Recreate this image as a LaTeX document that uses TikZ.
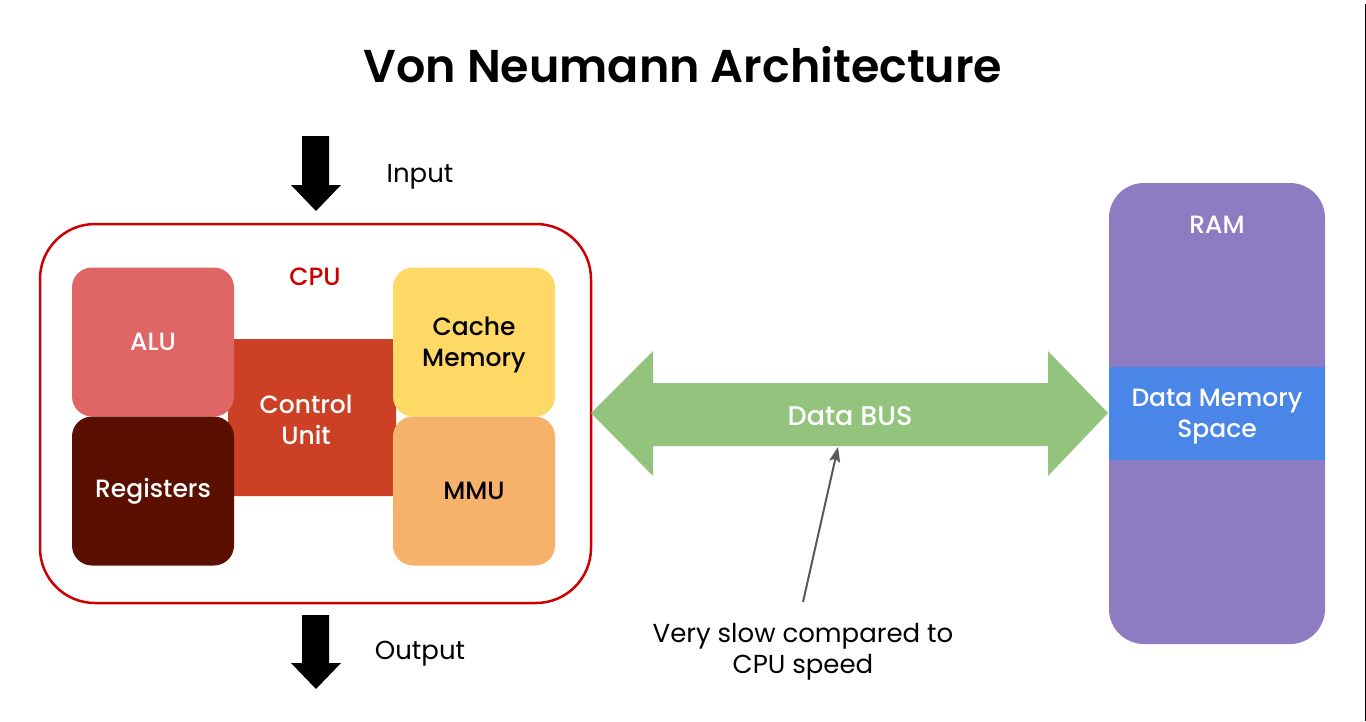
\documentclass[tikz,border=0pt]{standalone}
\usepackage{fontspec}
\setmainfont{Poppins}
\newfontfamily\pmed{Poppins Medium}
\newfontfamily\psemi{Poppins SemiBold}
\usetikzlibrary{arrows.meta}
\definecolor{cpured}{HTML}{CC0000}
\definecolor{alucol}{HTML}{E06666}
\definecolor{regcol}{HTML}{5B0F00}
\definecolor{ctlcol}{HTML}{CC4125}
\definecolor{cachecol}{HTML}{FFD966}
\definecolor{mmucol}{HTML}{F6B26B}
\definecolor{buscol}{HTML}{93C47D}
\definecolor{ramcol}{HTML}{8E7CC3}
\definecolor{dmcol}{HTML}{4A86E8}
\definecolor{notecol}{HTML}{595959}
\begin{document}
\begin{tikzpicture}[x=1pt,y=-1pt,
  lbl/.style={font=\pmed\fontsize{25}{31}\selectfont, align=center, inner sep=0pt},
  txt/.style={lbl, yshift=-3pt},
  unitbox/.style={lbl, rounded corners=20pt, minimum width=162pt, minimum height=149pt},
  bigarrow/.style={fill=black}]
\useasboundingbox (0,0) rectangle (1366,721);
\fill[white] (0,0) rectangle (1366,721);
% title
\node[font=\psemi\fontsize{46}{50}\selectfont, inner sep=0pt] (title) at (683,65) {Von Neumann Architecture};
% input / output arrows
\fill[bigarrow] (302,136) -- (329,136) -- (329,185) -- (341,185) -- (316,211) -- (291,185) -- (302,185) -- cycle;
\node[txt, font=\fontsize{26}{31}\selectfont] (input) at (420,174) {Input};
\fill[bigarrow] (302,615) -- (329,615) -- (329,663) -- (341,663) -- (316,689) -- (291,663) -- (302,663) -- cycle;
\node[txt, font=\fontsize{26}{31}\selectfont] (output) at (420,651) {Output};
% CPU
\node[draw=cpured, line width=2.5pt, rounded corners=55pt, minimum width=551pt, minimum height=379pt] (cpu) at (315.5,413.5) {};
\node[txt, text=cpured] (cpulbl) at (315,274) {CPU};
\node[lbl, fill=ctlcol, rounded corners=4pt, minimum width=168pt, minimum height=157pt] (ctl) at (312,417.5) {};
\node[txt, text=white] (ctllbl) at (306,417) {Control\\Unit};
\node[unitbox, fill=alucol, text=white] (alu) at (153,342) {ALU};
\node[unitbox, fill=regcol, text=white] (reg) at (153,491) {Registers};
\node[unitbox, fill=cachecol, text=black] (cache) at (474,342) {};
\node[txt, text=black] (cachelbl) at (474,342) {Cache\\Memory};
\node[unitbox, fill=mmucol, text=black] (mmu) at (474,491) {MMU};
% Data bus
\fill[buscol] (591,413) -- (653,351) -- (653,383) -- (1048,383) -- (1048,351) -- (1108,413)
  -- (1048,476) -- (1048,446) -- (653,446) -- (653,476) -- cycle;
\node[txt, text=white, font=\pmed\fontsize{27}{31}\selectfont] (bus) at (850,413) {Data BUS};
% RAM
\node[fill=ramcol, rounded corners=35pt, minimum width=216pt, minimum height=461pt, inner sep=0pt] (ram) at (1217,413.5) {};
\node[txt, text=white] (ramlbl) at (1217,222) {RAM};
\node[lbl, fill=dmcol, minimum width=216pt, minimum height=93pt] (dm) at (1217,413.5) {};
\node[txt, text=white] (dmlbl) at (1217,413.5) {Data Memory\\Space};
% note
\node[txt, font=\fontsize{26}{31}\selectfont] (note) at (803,649) {Very slow compared to\\CPU speed};
\coordinate (slowtail) at (803,602);
\coordinate (bustip) at (838,447);
\draw[notecol, line width=2pt, -{Stealth[length=15pt,width=11pt,inset=3pt]}] (slowtail) -- (bustip);
% right edge line
\draw[line width=1pt] (1365.5,4) -- (1365.5,721);
\end{tikzpicture}
\end{document}
